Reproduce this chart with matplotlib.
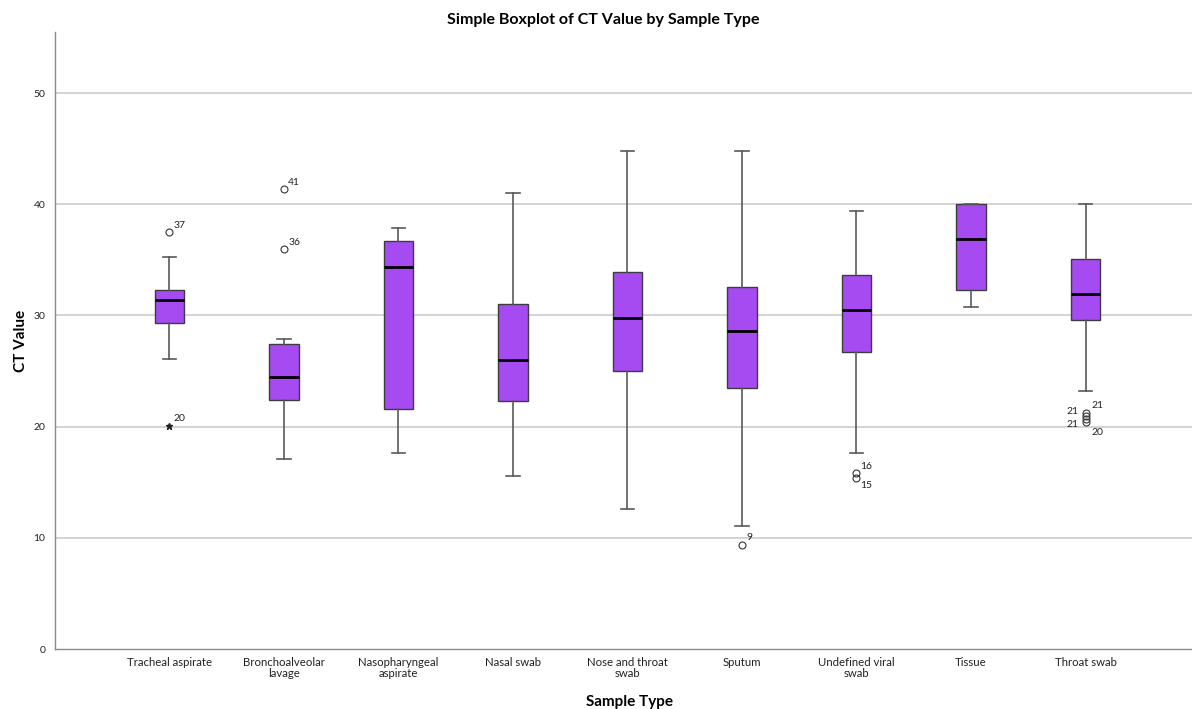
import matplotlib
matplotlib.use('Agg')
import matplotlib.pyplot as plt

plt.rcParams['font.family'] = ['Lato', 'DejaVu Sans']

categories = ['Tracheal aspirate', 'Bronchoalveolar\nlavage', 'Nasopharyngeal\naspirate',
              'Nasal swab', 'Nose and throat\nswab', 'Sputum', 'Undefined viral\nswab',
              'Tissue', 'Throat swab']

# box statistics
whis_lo = [26.1, 17.05, 17.6, 15.55, 12.6, 11.1, 17.65, 30.75, 23.2]
q1 = [29.3, 22.4, 21.6, 22.35, 25.0, 23.45, 26.7, 32.3, 29.6]
med = [31.35, 24.5, 34.4, 26.0, 29.8, 28.6, 30.5, 36.9, 31.9]
q3 = [32.3, 27.4, 36.7, 31.0, 33.9, 32.6, 33.6, 40.0, 35.1]
whis_hi = [35.3, 27.9, 37.9, 41.0, 44.8, 44.8, 39.4, 40.0, 40.0]

# outliers: category index, value, case label, marker
out_cat = [0, 0, 1, 1, 5, 6, 6, 8, 8, 8, 8]
out_val = [37.5, 20.1, 41.4, 36.0, 9.4, 15.8, 15.4, 21.2, 21.0, 20.7, 20.4]
out_lab = ['37', '20', '41', '36', '9', '16', '15', '21', '21', '21', '20']
out_mark = ['o', '*', 'o', 'o', 'o', 'o', 'o', 'o', 'o', 'o', 'o']

# label placement (offset points) for each outlier label
lab_off = [(3, 3), (3, 3), (3, 3), (3, 3), (3, 3), (3, 3), (3, -7),
           (4, 4), (-14, 1), (-14, -6), (4, -9)]

fig = plt.figure(figsize=(11.92, 7.09), dpi=100)
ax = fig.add_axes([0.0461, 0.0846, 0.9539, 0.8703])

stats = []
for i in range(len(categories)):
    stats.append(dict(whislo=whis_lo[i], q1=q1[i], med=med[i], q3=q3[i],
                      whishi=whis_hi[i], fliers=[]))

positions = list(range(len(categories)))
ax.bxp(stats, positions=positions, widths=0.255, patch_artist=True, showfliers=False,
       boxprops=dict(facecolor='#a64bf2', edgecolor='#3c3c3c', linewidth=1.0),
       medianprops=dict(color='black', linewidth=2.0),
       whiskerprops=dict(color='#5a5a5a', linewidth=1.2),
       capprops=dict(color='#5a5a5a', linewidth=1.2),
       capwidths=0.12, zorder=3)

for c, v, lab, m, off in zip(out_cat, out_val, out_lab, out_mark, lab_off):
    if m == 'o':
        ax.plot(c, v, 'o', markersize=5, markerfacecolor='none',
                markeredgecolor='#333333', markeredgewidth=0.8, zorder=4)
    else:
        ax.plot(c, v, '*', markersize=5, color='#222222', zorder=4)
    ax.annotate(lab, (c, v), xytext=off, textcoords='offset points',
                fontsize=7.5, color='#222222')

ax.set_xlim(-1, 8.93)
ax.set_ylim(0, 55.5)
ax.set_yticks([0, 10, 20, 30, 40, 50])
ax.set_xticks(positions)
ax.set_xticklabels(categories, fontsize=8.2, linespacing=0.95)
ax.tick_params(axis='both', length=0, colors='#222222')
ax.tick_params(axis='y', labelsize=7.5, pad=7)
ax.tick_params(axis='x', pad=6)

for g in [10, 20, 30, 40, 50]:
    ax.axhline(g, color='#cccccc', linewidth=1.2, zorder=1)

for s in ['top', 'right']:
    ax.spines[s].set_visible(False)
for s in ['left', 'bottom']:
    ax.spines[s].set_color('#8a8a8a')
    ax.spines[s].set_linewidth(1.0)

ax.set_title('Simple Boxplot of CT Value by Sample Type', fontsize=11.5, fontweight='bold',
             pad=6, x=0.482)
ax.set_xlabel('Sample Type', fontsize=11, fontweight='bold')
ax.set_ylabel('CT Value', fontsize=11, fontweight='bold', labelpad=4)
ax.xaxis.set_label_coords(0.505, -0.075)

fig.savefig('out.png', dpi=100)
